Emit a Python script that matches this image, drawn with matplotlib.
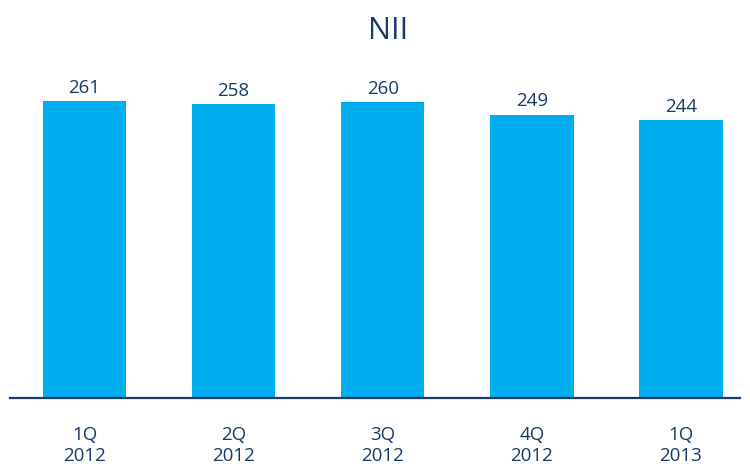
import matplotlib.pyplot as plt

plt.rcParams['font.family'] = ['Open Sans', 'DejaVu Sans']

quarters = ['1Q\n2012', '2Q\n2012', '3Q\n2012', '4Q\n2012', '1Q\n2013']
nii = [261, 258, 260, 249, 244]

bar_color = '#00AEEF'
text_color = '#183A66'

fig = plt.figure(figsize=(7.5, 4.66), dpi=100)
ax = fig.add_axes([0.0133, 0.146, 0.974, 0.725])

x = range(len(nii))
bars = ax.bar(x, nii, width=0.56, color=bar_color)
for b, v in zip(bars, nii):
    ax.text(b.get_x() + b.get_width() / 2, v + 4, str(v), ha='center', va='bottom',
            fontsize=13.5, color=text_color)

ax.set_xlim(-0.5, 4.4)
ax.set_ylim(0, 297)
ax.set_xticks(list(x))
ax.set_xticklabels(quarters, fontsize=13.5, color=text_color, linespacing=1.25)
ax.tick_params(axis='x', length=0, pad=20)
ax.set_yticks([])
for s in ['top', 'right', 'left']:
    ax.spines[s].set_visible(False)
ax.spines['bottom'].set_color(text_color)
ax.spines['bottom'].set_linewidth(1.6)

fig.text(0.517, 0.933, 'NII', ha='center', va='center', fontsize=22, color=text_color)

fig.savefig('out.png', dpi=100)
